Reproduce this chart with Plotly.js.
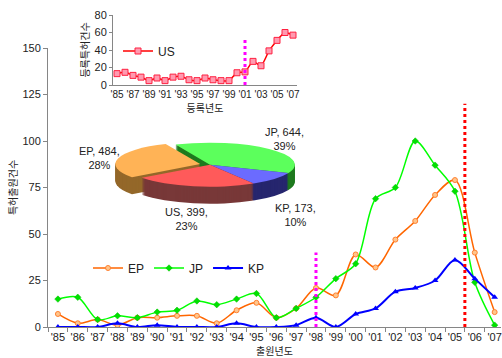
<!DOCTYPE html>
<html><head><meta charset="utf-8">
<script src="https://cdn.plot.ly/plotly-3.0.1.min.js"></script>
<style>
html,body{margin:0;padding:0;background:#fff;width:502px;height:358px;overflow:hidden}
#main{position:absolute;left:0;top:0;width:502px;height:358px}
#inset{position:absolute;left:0;top:0;width:310px;height:125px}
#pie{position:absolute;left:115px;top:140px;width:190px;height:256px;transform-origin:0 0;transform:scaleY(0.26)}
</style></head><body>
<div id="main"></div><div id="pie"></div><div id="inset"></div>
<script>
// ---- data ----
const years = ["'85","'86","'87","'88","'89","'90","'91","'92","'93","'94","'95","'96","'97","'98","'99","'00","'01","'02","'03","'04","'05","'06","'07"];
const epValues = [7,2,4,1,5,5,6,6,2,9,13,5,10,21,17,39,32,47,57,71,79,40,8];
const jpValues = [15,16,4,6,5,8,9,14,12,15,18,5,10,16,26,34,69,75,100,87,73,24,1];
const kpValues = [0,0,0,2,0,1,0,0,0,2,0,0,1,5,0,7,10,19,21,25,36,26,16];
const usValues = [13,14.5,11,9,5,8,5,9,10,6,5,8,6,5,5,14,15,27,22,39,51,60,57];
const mainRefX = [13, 20.5];      // year index of dotted reference lines
const mainRefTop = [40, 120];
const insetRefX = [16];
const insetRefTop = [54];
const pieLabels = ['JP','KP','US','EP'];
const pieValues = [644,173,399,484];
const piePercents = [39,10,23,28];
const inTickYears = years.filter((_, i) => i % 2 === 0);

const idx = years.map((_, i) => i);
const TXT = '#222';
const AX = '#868686';
const NUMFONT = 'Liberation Sans Narrow, Liberation Sans, Arial, sans-serif';
const KRFONT = 'Noto Sans CJK KR, sans-serif';
const cfg = {staticPlot:true, displayModeBar:false};

// ---- main chart ----
const main = [
  {x: idx, y: epValues, name:'EP', type:'scatter', mode:'lines+markers',
   line:{color:'#ff6600', width:1.5, shape:'spline', smoothing:0.9},
   marker:{symbol:'circle', size:5, color:'#ffc68c', line:{color:'#ff8030', width:1}}},
  {x: idx, y: jpValues, name:'JP', type:'scatter', mode:'lines+markers',
   line:{color:'#00ff00', width:1.5, shape:'spline', smoothing:0.9},
   marker:{symbol:'diamond', size:5, color:'#00e000', line:{color:'#00c000', width:0.5}}},
  {x: idx, y: kpValues, name:'KP', type:'scatter', mode:'lines+markers',
   line:{color:'#0000ff', width:2, shape:'spline', smoothing:0.9},
   marker:{symbol:'triangle-up', size:6, color:'#0000ff'}}
];
const mainShapes = mainRefX.map((xv, i) => ({
  type:'line', xref:'x', yref:'y', x0:xv, x1:xv, y0:0, y1:mainRefTop[i], layer:'above',
  line:{color: i === 0 ? '#ff00ff' : '#ff0000', width:3, dash:'dot'}
}));
const pxX = p => (p - 48) / 453, pxY = p => (327 - p) / 279;
const labelPos = {JP:[284,139], KP:[295,215], US:[186,218.5], EP:[99,157.5]};
const pieAnn = pieLabels.map((l, i) => ({
  xref:'paper', yref:'paper', x:pxX(labelPos[l][0]), y:pxY(labelPos[l][1]),
  text: l + ', ' + pieValues[i] + ',<br>' + piePercents[i] + '%', showarrow:false,
  font:{family:NUMFONT, size:11, color:TXT}, align:'center', xanchor:'center', yanchor:'middle'
}));
Plotly.newPlot('main', main, {
  width:502, height:358, margin:{l:48, r:1, t:48, b:31},
  paper_bgcolor:'#fff', plot_bgcolor:'rgba(0,0,0,0)',
  font:{family:NUMFONT, size:11, color:TXT},
  showlegend:true,
  legend:{orientation:'h', x:pxX(88), y:pxY(268), xanchor:'left', yanchor:'middle',
          bgcolor:'rgba(0,0,0,0)', font:{size:12, color:TXT}, itemwidth:30, tracegroupgap:0},
  xaxis:{range:[-0.5, 22.32], tickmode:'array', tickvals:idx, ticktext:years, ticks:'', tickangle:0,
         showline:true, linecolor:AX, linewidth:1, showgrid:false, zeroline:false,
         tickfont:{size:11, color:TXT},
         minor:{tickmode:'array', tickvals: idx.map(i => i - 0.5), ticks:'outside', ticklen:4, tickcolor:AX, showgrid:false},
         title:{text:'출원년도', font:{family:KRFONT, size:10, color:TXT}, standoff:1}},
  yaxis:{range:[0,150], tickmode:'array', tickvals:[0,25,50,75,100,125,150], ticks:'outside', ticklen:4, tickcolor:AX,
         showline:true, linecolor:AX, linewidth:1, showgrid:false, zeroline:false,
         tickfont:{size:11, color:TXT},
         title:{text:'특허출원건수', font:{family:KRFONT, size:10, color:TXT}, standoff:2}},
  shapes: mainShapes,
  annotations: pieAnn
}, cfg);

// ---- inset chart ----
Plotly.newPlot('inset', [
  {x: idx, y: usValues, name:'US', type:'scatter', mode:'lines+markers',
   line:{color:'#ff0000', width:1.5, shape:'spline', smoothing:0.6},
   marker:{symbol:'square', size:6, color:'#ff9ab0', line:{color:'#ff2040', width:1}}}
], {
  width:310, height:125, margin:{l:113, r:13, t:15, b:40},
  paper_bgcolor:'rgba(0,0,0,0)', plot_bgcolor:'rgba(0,0,0,0)',
  font:{family:NUMFONT, size:11, color:TXT},
  showlegend:true,
  legend:{x:(118-113)/184, y:(85-51)/70, xanchor:'left', yanchor:'middle', bgcolor:'rgba(0,0,0,0)', font:{size:12, color:TXT}},
  xaxis:{range:[-0.5,22.5], tickmode:'array', tickvals: idx.filter(i => i % 2 === 0), ticktext: inTickYears, ticks:'', tickangle:0,
         showline:true, linecolor:AX, showgrid:false, zeroline:false, tickfont:{size:10, color:TXT},
         title:{text:'등록년도', font:{family:KRFONT, size:10, color:TXT}, standoff:3}},
  yaxis:{range:[0,80], tickmode:'array', tickvals:[0,20,40,60,80], ticks:'outside', ticklen:3, tickcolor:AX,
         showline:true, linecolor:AX, showgrid:false, zeroline:false, tickfont:{size:11, color:TXT},
         title:{text:'등록특허건수', font:{family:KRFONT, size:10, color:TXT}, standoff:3}},
  shapes: insetRefX.map((xv, i) => ({type:'line', xref:'x', yref:'y', x0:xv, x1:xv, y0:0, y1:insetRefTop[i], layer:'above',
    line:{color:'#ff00ff', width:3, dash:'dot'}}))
}, cfg);

// ---- 3D-looking pie (stacked, squashed) ----
const squash = 0.26, pieSize = 190, pieH = 256, depth = 17;
const topCols = ['#5cff5c','#6b6bff','#ff5a5a','#ffb356'];
const sideCols = ['#1f7a1f','#26266e','#783838','#94682a'];
const pulls = [0, 0, 0, 0.12];
const pieTraces = [];
for (let d = depth; d >= 0; d--) {
  const o = d / squash;
  pieTraces.push({
    type:'pie', labels:pieLabels, values:pieValues, sort:false, direction:'clockwise', rotation:-24,
    pull:pulls, textinfo:'none', hoverinfo:'skip', showlegend:false,
    marker:{colors: d === 0 ? topCols : sideCols, line:{width:0}},
    domain:{x:[0,1], y:[(pieH - pieSize - o) / pieH, (pieH - o) / pieH]}
  });
}
Plotly.newPlot('pie', pieTraces, {
  width:pieSize, height:pieH, margin:{l:0,r:0,t:0,b:0},
  paper_bgcolor:'rgba(0,0,0,0)', showlegend:false
}, cfg);
</script>
</body></html>
